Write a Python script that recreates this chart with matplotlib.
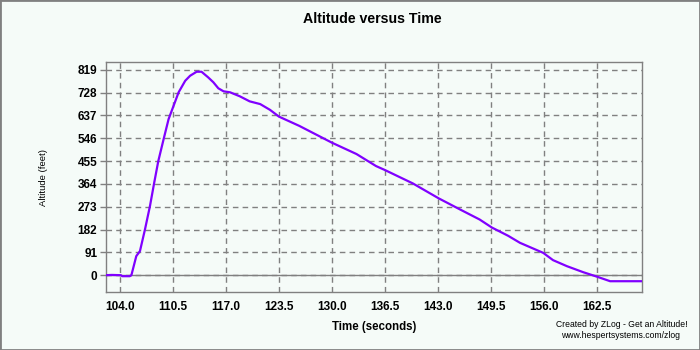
import matplotlib
matplotlib.use("Agg")
import matplotlib.pyplot as plt
from matplotlib.patches import Rectangle

# ---- data ----
time_s = [102.25, 103.0, 104.1, 104.3, 105.2, 105.4, 106.0, 106.45, 107.07, 107.68,
          108.2, 108.7, 109.35, 109.96, 110.57, 111.19, 112.0, 112.6, 113.4, 114.0,
          114.8, 115.45, 116.06, 116.7, 117.5, 118.7, 119.9, 121.2, 122.4, 123.5,
          126.0, 130.0, 133.0, 135.4, 136.5, 139.9, 143.1, 145.7, 148.1, 149.6,
          151.6, 153.05, 155.9, 157.1, 158.8, 160.8, 162.5, 164.1, 168.0]
altitude_ft = [0, 1, 0, -4, -4, 0, 76, 96, 183, 276,
               369, 455, 542, 622, 675, 729, 775, 795, 811, 811,
               789, 769, 745, 733, 729, 713, 693, 682, 659, 632,
               595, 528, 483, 435, 419, 366, 306, 262, 222, 190,
               157, 129, 89, 60, 36, 12, -6, -24, -24]
x_ticks = [104.0, 110.5, 117.0, 123.5, 130.0, 136.5, 143.0, 149.5, 156.0, 162.5]
x_tick_labels = ["104.0", "110.5", "117.0", "123.5", "130.0", "136.5", "143.0", "149.5", "156.0", "162.5"]
y_ticks = [0, 91, 182, 273, 364, 455, 546, 637, 728, 819]
y_tick_labels = ["0", "91", "182", "273", "364", "455", "546", "637", "728", "819"]

title = "Altitude versus Time"
x_label = "Time (seconds)"
y_label = "Altitude (feet)"
credit1 = "Created by ZLog - Get an Altitude!"
credit2 = "www.hespertsystems.com/zlog"

# ---- styling ----
bg = "#F5FBF8"
gray = "#808080"
line_color = "#8000FF"
plt.rcParams["font.family"] = ["Liberation Sans", "DejaVu Sans"]

fig = plt.figure(figsize=(7, 3.5), dpi=100, facecolor=bg)
ax = fig.add_axes([0.151, 0.165, 0.7666, 0.6587], facecolor=bg)

ax.set_xlim(102.25, 168.05)
ax.set_ylim(-68, 851)

ax.plot(time_s, altitude_ft, color=line_color, lw=1.6, zorder=3)
ax.axhline(0, color=gray, lw=1.0, zorder=2)

ax.set_xticks(x_ticks)
ax.set_xticklabels(x_tick_labels, fontsize=8.5, fontweight="bold")
ax.set_yticks(y_ticks)
ax.set_yticklabels(y_tick_labels, fontsize=8.5, fontweight="bold")
ax.tick_params(axis="x", direction="out", length=0, pad=6, colors=gray, labelcolor="black")
ax.tick_params(axis="y", direction="out", length=4, width=1, pad=2, colors=gray, labelcolor="black")

ax.grid(True, color=gray, linestyle=(0, (4, 3)), linewidth=1.0, zorder=1)
for s in ax.spines.values():
    s.set_color(gray)
    s.set_linewidth(1.0)

fig.text(0.532, 0.946, title, ha="center", va="center", fontsize=10.2, fontweight="bold")
fig.text(0.534, 0.066, x_label, ha="center", va="center", fontsize=8.3, fontweight="bold")
fig.text(0.062, 0.494, y_label, ha="center", va="center", rotation=90, fontsize=6.8)
fig.text(0.982, 0.074, credit1, ha="right", va="center", fontsize=6.2)
fig.text(0.972, 0.040, credit2, ha="right", va="center", fontsize=6.2)

fig.patches.append(Rectangle((0, 0), 1, 1, transform=fig.transFigure, fill=False,
                             edgecolor=gray, linewidth=2.0))

fig.savefig("out.png", dpi=100, facecolor=bg)
